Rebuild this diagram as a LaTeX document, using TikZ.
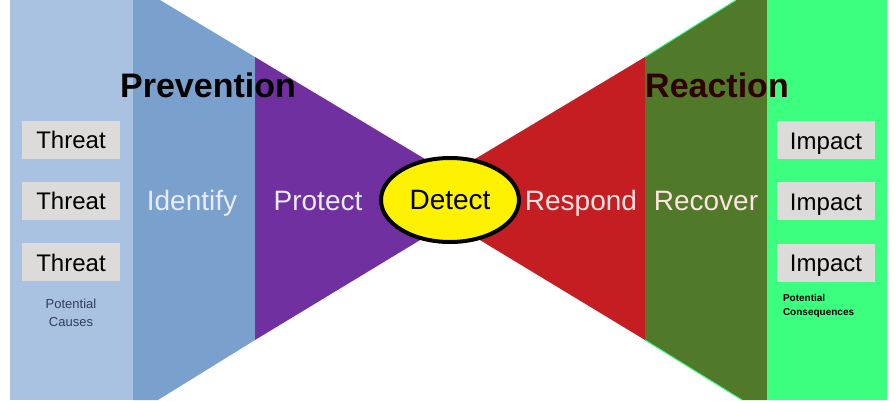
\documentclass[tikz,border=0pt]{standalone}
\usepackage{fontspec}
\setmainfont{Liberation Sans}
\usetikzlibrary{positioning,shapes.geometric}

\definecolor{lightblue}{RGB}{169,194,225}
\definecolor{midblue}{RGB}{122,160,205}
\definecolor{bowpurple}{RGB}{112,48,160}
\definecolor{bowred}{RGB}{196,30,34}
\definecolor{darkgreen}{RGB}{80,122,42}
\definecolor{brightgreen}{RGB}{60,255,128}
\definecolor{boxgray}{RGB}{220,219,217}
\definecolor{paletext}{RGB}{232,236,255}
\definecolor{pinktext}{RGB}{255,226,226}

\begin{document}
\begin{tikzpicture}[x=1pt, y=-1pt, node distance=23pt,
  every node/.style={font=\fontsize{24}{28}\selectfont, inner sep=0pt},
  itembox/.style={fill=boxgray, minimum width=98pt, minimum height=38pt, text height=18pt, text depth=0pt},
  phase/.style={text=paletext, anchor=base, font=\fontsize{28}{32}\selectfont},
  heading/.style={anchor=base, font=\fontsize{34}{38}\selectfont\bfseries}]
\useasboundingbox (0,0) rectangle (895,400);
% bands of the bow tie
\fill[lightblue] (10,0) rectangle (133,400);
\fill[midblue] (133,0) -- (160,0) -- (255,57) -- (255,340) -- (158,400) -- (133,400) -- cycle;
\fill[bowpurple] (255,57) -- (440,168) -- (440,228) -- (255,340) -- cycle;
\fill[bowred] (645,57) -- (460,168) -- (460,228) -- (645,340) -- cycle;
\fill[darkgreen] (645,57) -- (736,0) -- (767,0) -- (767,400) -- (742,400) -- (645,340) -- cycle;
\draw[brightgreen, line width=1pt] (645,57) -- (736,0);
\draw[brightgreen, line width=1pt] (645,340) -- (742,400);
\fill[brightgreen] (767,0) rectangle (887,400);
% headings
\node[heading] (prevention) at (208,97) {Prevention};
\node[heading, text={rgb,255:red,48;green,0;blue,0}] (reaction) at (717,97) {Reaction};
% causes
\node[itembox] (threat1) at (71,139.5) {Threat};
\node[itembox, below=of threat1] (threat2) {Threat};
\node[itembox, below=of threat2] (threat3) {Threat};
\node[below=17pt of threat3, align=center, text={rgb,255:red,50;green,60;blue,90},
  font=\fontsize{13}{18}\selectfont] (causes) {Potential\\Causes};
% consequences
\node[itembox] (impact1) at (826,140) {Impact};
\node[itembox, below=of impact1] (impact2) {Impact};
\node[itembox, below=of impact2] (impact3) {Impact};
\node[below=12pt of impact3.south west, xshift=6pt, anchor=north west, align=left,
  font=\fontsize{10}{14}\selectfont\bfseries] (consequences) {Potential\\Consequences};
% phases
\node[phase] (identify) at (192,210) {Identify};
\node[phase] (protect) at (318,210) {Protect};
\node[draw=black, line width=4pt, fill=yellow, ellipse, minimum width=138pt,
  minimum height=84pt, font=\fontsize{28}{32}\selectfont] (detect) at (450,200) {Detect};
\node[phase, text=pinktext] (respond) at (581,210) {Respond};
\node[phase, text=pinktext] (recover) at (706,210) {Recover};
\end{tikzpicture}
\end{document}
